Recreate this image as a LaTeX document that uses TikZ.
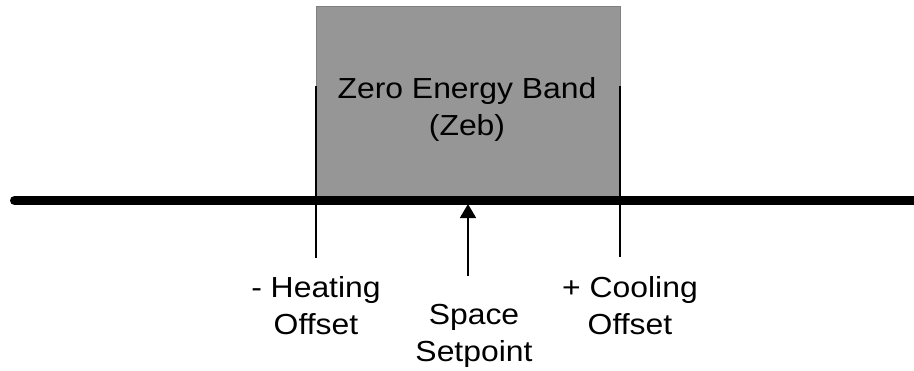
\documentclass[tikz,border=0pt]{standalone}
\usepackage{fontspec}
\setmainfont[FakeStretch=1.1]{Liberation Sans}
\usetikzlibrary{arrows.meta, positioning}

\begin{document}
\begin{tikzpicture}[
    x=1pt, y=-1pt,
    band/.style={rectangle, minimum width=304pt, minimum height=190pt, inner sep=0pt, draw=black!50, fill=black!41, line width=0.8pt},
    caption/.style={align=center, inner sep=0pt, anchor=north, font=\fontsize{29}{37}\selectfont},
    marker/.style={line width=1.8pt},
    axis/.style={line width=9pt, line cap=round},
    arrow/.style={line width=1.8pt, -{Triangle[width=16pt, length=14pt]}},
]
    \useasboundingbox (0,0) rectangle (914,370);

    % Zero energy band
    \node (zeb) [band] at (468,101) {};
    \node (zebtext) [caption] at (467,77.5) {Zero Energy Band\\(Zeb)};

    % Offset markers
    \coordinate (heattop) at (316,86);
    \coordinate (heatbot) at (316,258);
    \coordinate (cooltop) at (620,86);
    \coordinate (coolbot) at (620,257);
    \draw [marker] (heattop) -- (heatbot);
    \draw [marker] (cooltop) -- (coolbot);

    % Temperature axis
    \coordinate (axisleft) at (14.5,200.5);
    \coordinate (axisright) at (925,200.5);
    \draw [axis] (axisleft) -- (axisright);

    % Setpoint arrow
    \coordinate (spfoot) at (468,276);
    \coordinate (sptip) at (468,204);
    \draw [arrow] (spfoot) -- (sptip);

    % Labels
    \node (heating) [caption] at (316,276) {- Heating\\Offset};
    \node (setpoint) [caption] at (474,304) {Space\\Setpoint};
    \node (cooling) [caption] at (630,276) {+ Cooling\\Offset};
\end{tikzpicture}
\end{document}
